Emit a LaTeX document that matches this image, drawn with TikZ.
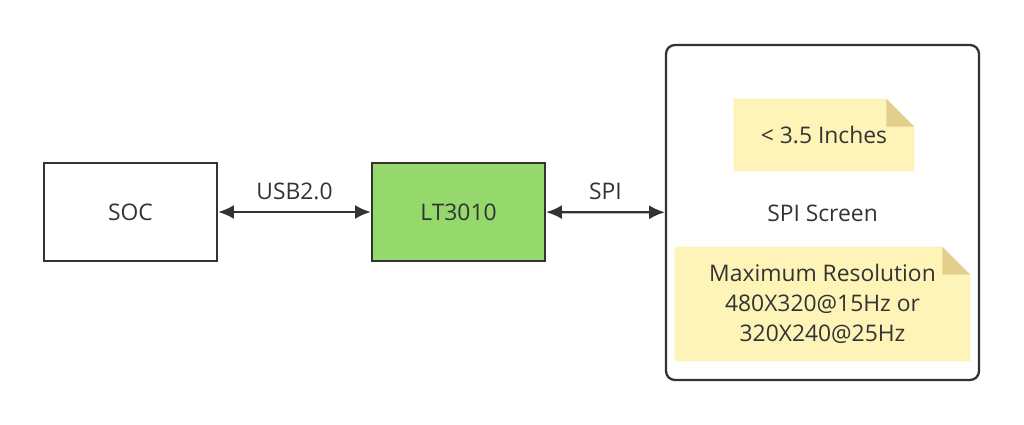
\documentclass[tikz,border=0pt]{standalone}
\usepackage{fontspec}
\setmainfont{Open Sans}
\usetikzlibrary{arrows.meta,positioning}
\definecolor{txt}{HTML}{333333}
\definecolor{chipgreen}{HTML}{95D96C}
\definecolor{notefill}{HTML}{FFF4B8}
\definecolor{notefold}{HTML}{E3CF8C}
\tikzset{
  blk/.style={draw=txt, line width=1.3pt, minimum width=3.46cm, minimum height=1.96cm,
              font=\fontsize{13}{16}\selectfont, text=txt},
  link/.style={line width=1.3pt, draw=txt, {Latex[length=9pt,width=8pt]}-{Latex[length=9pt,width=8pt]}},
  lbl/.style={font=\fontsize{13}{16}\selectfont, text=txt},
  note/.style={minimum width=#1, inner sep=0pt, align=center, text=txt,
               font=\fontsize{13}{17}\selectfont}
}
\newcommand{\notebg}[1]{%
  \fill[notefill] (#1.south west) -- (#1.south east) -- ([yshift=-0.56cm]#1.north east)
    -- ([xshift=-0.56cm]#1.north east) -- (#1.north west) -- cycle;
  \fill[notefold] ([xshift=-0.56cm]#1.north east) -- ([yshift=-0.56cm]#1.north east)
    -- ([xshift=-0.56cm,yshift=-0.56cm]#1.north east) -- cycle;}
\begin{document}
\begin{tikzpicture}[x=0.02cm,y=-0.02cm]
  \useasboundingbox (0,0) rectangle (1024,425);
  % blocks
  \node[blk] (soc) at (130.5,212) {SOC};
  \node[blk, fill=chipgreen] (lt) at (458.5,212) {LT3010};
  \node[draw=txt, line width=1.3pt, rounded corners=5pt, minimum width=6.26cm,
        minimum height=6.7cm] (scr) at (822.5,212.5) {};
  \node[lbl] (scrlbl) at (822.5,213) {SPI Screen};
  % notes
  \node[note=3.6cm, minimum height=1.44cm] (sz) at (824,135) {};
  \node[note=5.9cm, minimum height=2.28cm] (res) at (822.5,304) {};
  \notebg{sz}
  \notebg{res}
  \node[note=3.6cm] at (sz) {{<}~3.5 Inches};
  \node[note=5.9cm] at (res) {Maximum Resolution\\480X320@15Hz or\\320X240@25Hz};
  % links
  \draw[link] (soc) -- node[lbl, above=3pt] {USB2.0} (lt);
  \draw[link] (lt) -- node[lbl, above=3pt] {SPI} (scr);
\end{tikzpicture}
\end{document}
